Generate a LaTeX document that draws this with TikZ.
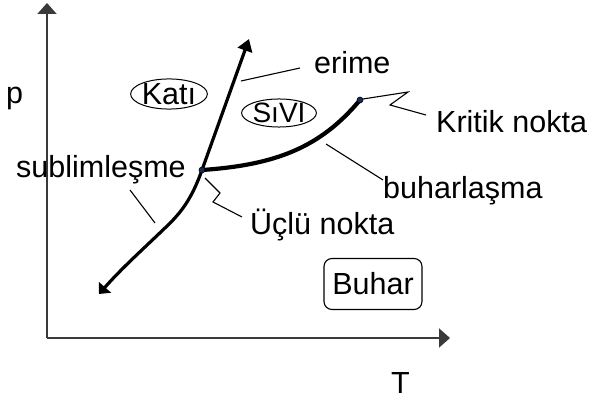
\documentclass[tikz,border=0pt]{standalone}
\usepackage{fontspec}
\setmainfont{Liberation Sans}
\usetikzlibrary{shapes.geometric,arrows.meta}
\definecolor{axisgray}{HTML}{3A3A3A}
\definecolor{dotblue}{HTML}{1A2A5A}
\begin{document}
\begin{tikzpicture}[x=1pt,y=-1pt,
  lbl/.style={font=\fontsize{30.5}{36}\selectfont, inner sep=0pt, anchor=base west},
  axisline/.style={draw=axisgray, line width=2pt, -{Triangle[width=19pt,length=11pt]}},
  curve/.style={line width=3.2pt, line cap=round},
  leader/.style={line width=1.1pt},
  phase/.style={ellipse, draw, line width=1pt, inner sep=0pt, font=\fontsize{30.5}{36}\selectfont},
  dotmark/.style={circle, fill=dotblue, draw=black, line width=0.6pt, minimum size=6pt, inner sep=0pt}]
\useasboundingbox (0,0) rectangle (595,401);
% axes
\coordinate (O) at (47,338);
\coordinate (ytip) at (47,3);
\coordinate (xtip) at (450,338);
\draw[axisline] (O) -- (ytip);
\draw[axisline] (O) -- (xtip);
\node[lbl] (plab) at (6,104) {p};
\node[lbl] (Tlab) at (391,393) {T};
% special points
\coordinate (tp) at (202,170);
\coordinate (cp) at (360,100);
\coordinate (mtip) at (249,39);
\coordinate (stip) at (99,294);
% curves
\draw[curve, -{Triangle[width=15pt,length=12pt]}] (tp) -- (mtip);
\draw[curve, -{Triangle[width=16pt,length=9pt]}] (tp) .. controls (192,198) and (182,212) .. (165,228) .. controls (140,252) and (122,268) .. (stip);
\draw[line width=4.2pt, line cap=round] (tp) .. controls (275,165) and (320,148) .. (cp);
\node[dotmark] (tpdot) at (tp) {};
\node[dotmark] (cpdot) at (cp) {};
% phase labels
\node[phase] (kati) at (169,94) {Katı};
\node[phase, font=\fontsize{28}{32}\selectfont] (sivi) at (279,113) {SıVI};
\node[draw, line width=1.1pt, rounded corners=8pt, minimum width=98pt, minimum height=51pt, inner sep=0pt, font=\fontsize{30.5}{36}\selectfont] (buhar) at (373,284) {Buhar};
% labels
\node[lbl] (erime) at (314,74) {erime};
\node[lbl] (kritik) at (436,133) {Kritik nokta};
\node[lbl] (buharl) at (383,199) {buharlaşma};
\node[lbl] (subl) at (16,178) {sublimleşme};
\node[lbl] (uclu) at (250,234) {Üçlü nokta};
% leaders
\coordinate (e1) at (241,81);
\coordinate (e2) at (300,68);
\draw[leader] (e1) -- (e2);
\coordinate (k0) at (363,99);
\coordinate (k1) at (408,92);
\coordinate (k2) at (390,105);
\coordinate (k3) at (426,115);
\draw[leader] (k0) -- (k1) -- (k2) -- (k3);
\coordinate (b1) at (326,144);
\coordinate (b2) at (383,180);
\draw[leader] (b1) -- (b2);
\coordinate (s1) at (130,190);
\coordinate (s2) at (155,223);
\draw[leader] (s1) -- (s2);
\coordinate (u0) at (205,178);
\coordinate (u1) at (220,193);
\coordinate (u2) at (213,202);
\coordinate (u3) at (242,217);
\draw[leader] (u0) -- (u1) -- (u2) -- (u3);
\end{tikzpicture}
\end{document}
